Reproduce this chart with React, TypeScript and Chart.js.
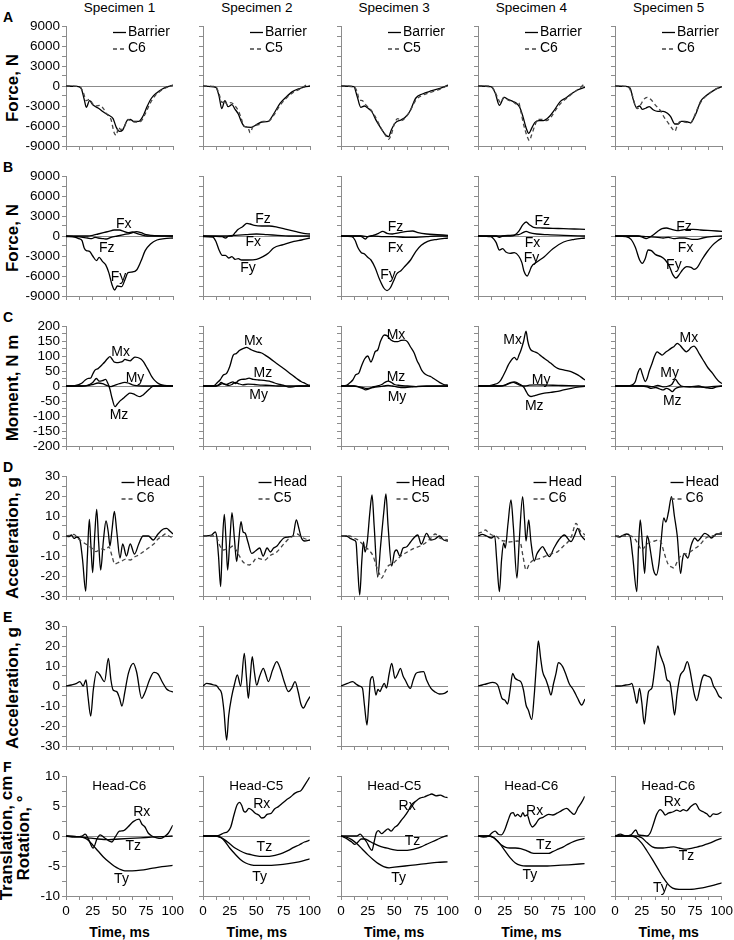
import React, { useEffect, useRef } from 'react';
import { Chart, registerables } from 'chart.js';

Chart.register(...registerables);

type Pt = [number, number];
type Note = [string, number, number];

// ---------- labels ----------
const SPECIMENS = ['Specimen 1', 'Specimen 2', 'Specimen 3', 'Specimen 4', 'Specimen 5'];
const ROW_LETTERS = ['A', 'B', 'C', 'D', 'E', 'F'];
const Y_TITLES: string[][] = [['Force, N'], ['Force, N'], ['Moment, N m'], ['Acceleration, g'], ['Acceleration, g'], ['Translation, cm', 'Rotation, °']];
const X_TITLE = 'Time, ms';
const TIME_LABELS = [0, 25, 50, 75, 100];
const FORCE_LABELS = [-9000, -6000, -3000, 0, 3000, 6000, 9000];
const MOMENT_LABELS = [-200, -150, -100, -50, 0, 50, 100, 150, 200];
const ACC_LABELS = [-30, -20, -10, 0, 10, 20, 30];
const DISP_LABELS = [-10, -5, 0, 5, 10];
const A_REF_NAME = 'Barrier';
const A_VERT_NAMES = ['C6', 'C5', 'C5', 'C6', 'C6'];
const D_REF_NAME = 'Head';
const D_VERT_NAMES = ['C6', 'C5', 'C5', 'C6', 'C6'];
const F_TITLES = ['Head-C6', 'Head-C5', 'Head-C5', 'Head-C6', 'Head-C6'];

// ---------- Row A: barrier vs vertebra force ----------
const A1_barrier: Pt[] = [[0,0],[10,-50],[14,-300],[17,-2000],[19,-3200],[22,-2200],[25,-2800],[30,-3300],[35,-3900],[40,-4400],[44,-4900],[47,-6200],[50,-6800],[53,-6600],[57,-5200],[60,-5000],[63,-5300],[68,-5300],[72,-4500],[76,-3000],[80,-1800],[85,-1000],[90,-450],[95,-100],[100,150]];
const A1_c6: Pt[] = [[0,0],[12,-100],[16,-900],[19,-2200],[22,-2000],[25,-2700],[28,-3000],[32,-2900],[35,-3400],[38,-4200],[42,-5000],[45,-7000],[47,-7400],[49,-6200],[51,-6500],[54,-6300],[58,-5000],[61,-5300],[66,-5400],[70,-5300],[74,-4200],[78,-2800],[83,-1500],[88,-800],[93,-300],[100,100]];
const A2_barrier: Pt[] = [[0,0],[12,-200],[15,-1500],[17.5,-3400],[20.5,-2200],[23.5,-3100],[27,-2800],[30,-3500],[33,-4200],[36,-5400],[39,-6100],[45,-6200],[50,-5800],[55,-5400],[61,-5300],[66,-4200],[72,-2600],[78,-1600],[84,-800],[90,-400],[96,-100],[100,-50]];
const A2_c5: Pt[] = [[0,0],[12,-100],[15,-1200],[18,-2500],[20,-2200],[23,-2900],[26,-2500],[30,-3000],[33,-3700],[36,-5000],[38,-6000],[42,-6200],[44,-7000],[47,-6000],[52,-5800],[56,-5300],[61,-5300],[66,-4400],[72,-2900],[78,-1800],[84,-1000],[90,-500],[95,0],[97,200],[100,0]];
const A3_barrier: Pt[] = [[0,0],[12,-100],[15,-1500],[18.5,-3200],[22,-3000],[25,-3300],[29,-3900],[33,-5200],[38,-6500],[42,-7400],[44.5,-7600],[47,-6600],[51,-5500],[56,-5100],[60,-4700],[64,-3900],[70,-1800],[76,-1200],[85,-700],[95,-200],[100,150]];
const A3_c5: Pt[] = [[0,0],[12,-100],[15,-800],[17,-2000],[20,-2200],[23,-2800],[28,-3600],[33,-4900],[38,-6500],[42,-7500],[44.5,-8000],[47,-7300],[50,-5600],[53,-4900],[56,-5200],[60,-4800],[64,-3900],[70,-2100],[76,-1400],[85,-900],[95,-300],[100,100]];
const A4_barrier: Pt[] = [[0,0],[12,-100],[16,-1000],[20,-2900],[24.5,-1700],[28,-2000],[31,-2200],[36,-2600],[39,-3200],[42,-4600],[45,-6300],[47.5,-7100],[50,-6400],[53,-5500],[57,-5200],[61,-5200],[66,-4700],[71,-3700],[77,-2300],[82,-1800],[87,-1200],[93,-600],[100,-200]];
const A4_c6: Pt[] = [[0,0],[12,-50],[15,-600],[18,-1600],[21,-2500],[24,-1700],[28,-2100],[33,-2400],[36,-2700],[38,-2500],[40,-3800],[43,-6000],[46,-7600],[48,-8200],[50,-7400],[53,-6000],[56,-5000],[60,-5000],[64,-5200],[68,-4700],[73,-3500],[78,-2500],[84,-1700],[90,-900],[96,-200],[99,200],[100,50]];
const A5_barrier: Pt[] = [[0,0],[10,-50],[14,-300],[17,-2000],[20,-3200],[23,-3000],[25.5,-3500],[29,-3300],[32,-3100],[36,-3600],[40,-3800],[45,-3800],[49,-4100],[52,-4600],[56,-5700],[59,-5700],[62,-5300],[65,-5300],[68,-5400],[71,-5500],[73,-5000],[76,-4000],[80,-2300],[84,-1600],[90,-900],[95,-400],[100,-100]];
const A5_c6: Pt[] = [[0,0],[12,-100],[16,-1300],[19,-3000],[21,-3400],[24,-2800],[27,-2000],[30,-1700],[34,-2100],[38,-2900],[42,-3600],[46,-4700],[50,-5600],[54,-6500],[56,-6800],[58,-6000],[61,-5300],[65,-5400],[68,-5500],[70,-5600],[73,-5000],[76,-3800],[80,-2500],[85,-1500],[90,-900],[95,-400],[100,-100]];

// ---------- Row B: force components ----------
const B1_fx: Pt[] = [[0,0],[20,0],[25,100],[30,300],[35,500],[40,700],[45,900],[50,900],[54,700],[58,500],[62,600],[66,400],[70,200],[76,0],[100,0]];
const B1_fy: Pt[] = [[0,0],[8,-150],[12,-400],[15,-700],[17,-1800],[19,-2200],[22,-2300],[25,-3000],[28.5,-3700],[31,-3200],[34,-3800],[37,-4300],[40,-5500],[43,-7300],[45.5,-8100],[48,-7500],[52,-7600],[55,-6600],[58,-5500],[62,-5400],[66,-5100],[70,-3800],[74,-2200],[79,-1200],[85,-600],[92,-400],[100,-300]];
const B1_fz: Pt[] = [[0,-100],[10,-100],[20,-300],[24,-400],[27,-200],[30,-300],[35,-400],[38,-450],[42,-200],[48,0],[54,200],[60,400],[66,650],[70,500],[75,200],[80,100],[100,0]];
const B2_fx: Pt[] = [[0,0],[18,-100],[21,-300],[24,0],[30,100],[40,200],[50,300],[60,200],[70,100],[80,0],[100,0]];
const B2_fy: Pt[] = [[0,-100],[9,-150],[12,-800],[15,-2100],[18,-2900],[21,-2900],[24,-3300],[27,-3100],[30,-3500],[33,-3400],[36,-3600],[42,-3600],[50,-3500],[56,-3100],[61,-2600],[66,-1800],[75,-1300],[85,-800],[92,-600],[100,-300]];
const B2_fz: Pt[] = [[0,0],[27,0],[30,500],[33,1000],[37,1400],[41,1900],[44,1800],[48,1600],[55,1500],[62,1500],[70,1300],[78,1000],[86,700],[94,400],[100,300]];
const B3_fx: Pt[] = [[0,0],[18,0],[21,-300],[23,-450],[25,-100],[30,0],[40,-100],[50,-100],[60,-200],[70,-200],[80,-100],[90,0],[100,0]];
const B3_fy: Pt[] = [[0,0],[10,-100],[13,-600],[16,-1800],[19,-2500],[22,-2700],[25,-3200],[28,-3600],[32,-4800],[36,-6500],[40,-7800],[43,-8200],[46,-7800],[49,-6800],[52,-5700],[56,-5200],[60,-4500],[65,-3600],[70,-2300],[75,-1400],[81,-800],[90,-500],[100,-300]];
const B3_fz: Pt[] = [[0,0],[20,0],[25,-100],[30,100],[35,400],[39,700],[43,400],[48,300],[55,500],[62,700],[67,750],[72,500],[80,300],[90,200],[100,100]];
const B4_fx: Pt[] = [[0,0],[17,0],[20,-200],[23,0],[30,100],[38,200],[42,500],[45,700],[48,500],[55,300],[65,200],[80,100],[100,0]];
const B4_fy: Pt[] = [[0,0],[12,-100],[15,-500],[17,-1000],[20,-2100],[23,-1900],[26,-2400],[30,-2600],[34,-2500],[38,-3000],[41,-4000],[43,-5300],[46,-6000],[48,-5400],[50,-4600],[55,-3900],[62,-3100],[70,-1900],[80,-900],[90,-500],[100,-300]];
const B4_fz: Pt[] = [[0,0],[20,0],[30,0],[34,100],[38,700],[42,1700],[45,2100],[48,1700],[52,1300],[60,1200],[70,1150],[80,1100],[90,1050],[100,1000]];
const B5_fx: Pt[] = [[0,0],[20,0],[30,-100],[40,-200],[45,-300],[50,-200],[55,-400],[60,-300],[65,-300],[72,-500],[77,-500],[82,-300],[90,-100],[100,0]];
const B5_fy: Pt[] = [[0,0],[10,-100],[15,-500],[19,-1700],[23,-3600],[25.5,-4100],[28,-3500],[31,-2100],[34,-2200],[38,-2800],[43,-3100],[47,-3600],[51,-4600],[54,-5800],[57,-6300],[60,-5800],[63,-5100],[67,-4600],[71,-4700],[74,-5000],[77,-4700],[81,-3600],[86,-2400],[91,-1400],[96,-700],[100,-300]];
const B5_fz: Pt[] = [[0,0],[22,0],[26,-200],[29,-400],[32,-200],[36,200],[40,700],[44,1100],[48,1200],[53,1000],[58,800],[63,900],[68,1000],[73,1000],[80,900],[90,800],[100,700]];

// ---------- Row C: moments ----------
const C1_mx: Pt[] = [[0,0],[5,0],[8,1],[11,4],[14.6,9],[18,20],[20.9,25.5],[23,26],[25,40],[27.1,53],[30,58],[31.8,64],[34,72],[36.4,81],[38.5,90],[41.1,98],[43,90],[45,80],[47.4,78],[50,79],[53,82],[55.1,89],[57.5,86],[60,84],[62,90],[64.5,96],[67,95],[70,90],[72.3,81],[75,65],[77,53],[80,32],[82,22],[85,12],[88,5.5],[92,2],[100,0]];
const C1_my: Pt[] = [[0,0],[15,0],[20,1],[25,5],[30,10],[34,8],[38,2],[42,-2],[46,3],[50,8],[55,12],[58,10],[62,4],[66,1],[72,0],[100,0]];
const C1_mz: Pt[] = [[0,0],[15,0],[20,2],[25,12],[28.5,25],[31,16],[34,18],[37,22],[39,10],[41,-10],[43,-40],[45.8,-69],[48,-60],[51,-48],[53.6,-41],[57,-30],[59.8,-24],[63,-26],[66,-32],[69.2,-35.5],[72,-30],[75,-20],[78,-10],[81.6,0],[100,0]];
const C2_mx: Pt[] = [[0,0],[8,0],[11,2],[13,10],[15.9,20],[19,37],[22,42],[25,65],[28.3,103],[31,108],[34,118],[37.7,125],[40.8,129],[43,125],[45.5,120],[50.2,114],[54.8,110],[58,103],[62.6,92],[68.8,75],[75,59],[81.3,42],[87.5,25],[92,14],[95.3,9],[98,4],[100,2]];
const C2_my: Pt[] = [[0,0],[12,0],[15,3],[18,8],[21,5],[24,2],[27,5],[30,12],[33,8],[37,4],[42,6],[48,5],[55,3],[62,2],[70,0],[100,0]];
const C2_mz: Pt[] = [[0,0],[12,0],[15,5],[17,12],[19,8],[22,5],[25,10],[28,14],[30,8],[33,18],[36,22],[40,23],[43,26],[47,22],[52,20],[57,19],[62,16],[67,10],[72,5],[77,0],[80,-4],[84,-3],[90,0],[100,0]];
const C3_mx: Pt[] = [[0,0],[5,2],[8,10],[11,20],[14,38],[16.5,42],[19,65],[22,90],[25,100],[28,80],[30,95],[32,115],[34.3,120],[37,150],[40.5,170],[43,168],[46.7,153],[50,148],[53,148],[56,152],[59.2,153],[62,148],[65,130],[68.5,109],[71,85],[73.2,70],[75.5,52],[77.9,42],[81,35],[84.1,31],[86.5,25],[88.8,20],[92,12],[96,5],[100,3]];
const C3_my: Pt[] = [[0,0],[12,0],[16,-2],[20,-5],[24,-8],[28,-6],[32,-4],[36,-2],[40,0],[44,2],[48,0],[52,-3],[56,-5],[60,-5],[66,-3],[72,-1],[80,0],[100,0]];
const C3_mz: Pt[] = [[0,0],[12,0],[16,-3],[20,-8],[23,-13],[26,-10],[30,-3],[34,0],[38,5],[41,12],[44,16],[47,12],[50,5],[55,2],[62,0],[70,-2],[80,-1],[100,0]];
const C4_mx: Pt[] = [[0,0],[8,0],[12,2],[15,5],[18.4,9],[21,18],[23.1,31],[26.2,53],[28,68],[30.2,81],[32,90],[34,95.5],[36.4,87],[38.5,105],[40.2,120],[42.7,150],[44.9,183],[46.5,150],[48,130],[49.5,120],[52,115],[55.8,109],[59,100],[62,92],[65,84],[68.2,75.5],[71,67],[74.5,59],[80.7,53],[86.9,48],[90,43],[93.2,37],[97,28],[100,20]];
const C4_my: Pt[] = [[0,0],[20,0],[25,2],[29,8],[33,12],[36,8],[40,2],[44,0],[48,3],[55,4],[65,3],[75,2],[85,1],[100,0]];
const C4_mz: Pt[] = [[0,0],[20,0],[25,3],[28,8],[31,12],[34,14],[37,10],[40,4],[43,-5],[45,-18],[47,-30],[49.5,-35],[53,-32],[57,-28],[62,-24],[68,-21],[74.5,-18],[80,-13],[86.9,-8],[93,-4],[100,-1]];
const C5_mx: Pt[] = [[0,0],[10,0],[14,1],[17,6],[19,15],[21,40],[23.6,59],[25.5,40],[28.3,15],[30,25],[32,50],[34.6,75],[37,100],[39.3,114],[42,108],[44,103],[47,112],[50.3,120],[53,127],[55,131],[58.2,142],[61,135],[63.5,124],[66.7,114],[69,120],[71,128],[73.9,133],[76.5,122],[79,106],[83.3,81],[87,60],[91.2,42],[94,28],[97.5,14],[100,8]];
const C5_my: Pt[] = [[0,0],[30,0],[35,-2],[40,2],[45,-3],[50,0],[53,5],[56.5,22],[59,10],[62,0],[70,-3],[78,0],[85,-5],[90,-2],[100,0]];
const C5_mz: Pt[] = [[0,0],[25,0],[30,-3],[34,-8],[38,-5],[42,-10],[45,-13],[48,-8],[51,-12],[53.5,-19],[56,-10],[60,-4],[65,-2],[72,-3],[80,-4],[86,-6],[90,-8],[95,-3],[100,0]];

// ---------- Row D: head and vertebra acceleration ----------
const D1_head: Pt[] = [[0,0],[3,-0.3],[5,0.5],[7.5,-1.2],[10,-0.5],[13,-2],[15.5,-12],[18.4,-27.5],[20,-10],[21.8,8.3],[23.3,-5],[24.9,-18.3],[26.8,0],[28.7,13.3],[30.5,-3],[32.4,-17],[35,-2],[37.4,7.5],[39.5,2],[41.1,-5],[43,3],[45.2,12.3],[47.5,2],[50.5,-11],[53,-4],[56.5,-10],[60,-4],[64,-9],[68,-4],[72,0],[77,0],[81.5,-2],[86,1],[91,3.5],[94,3.8],[97,2.5],[100,1]];
const D1_c6: Pt[] = [[0,0],[5,0.5],[7.5,0.8],[10,-0.5],[13,-2],[17,-3.5],[20,-4.5],[24,-6],[28,-7.8],[31,-7],[34,-6.5],[37,-7],[40,-5.5],[43,-10],[45.5,-14],[48,-13.5],[52,-12.5],[56,-11.5],[60,-12],[64,-10.5],[68,-9.5],[72,-8],[77,-6],[82,-4],[86,-1.5],[90,0],[93,1],[96,0],[100,-1]];
const D2_head: Pt[] = [[0,0],[8,0.5],[11.5,2],[13,-1],[14.5,-10],[16.5,-25.3],[18,-5],[19.9,10.8],[21.5,-2],[23,-17],[25,-3],[27.1,11.7],[29.3,-1],[31.5,-12.8],[33.5,-2],[35.5,7.2],[37.5,2],[39.3,1.5],[42,-3],[45.5,-8.7],[49,-7.5],[53,-6],[56.2,-10],[59.9,-6],[63,-8],[66,-6],[69.2,-5],[72,-3],[75.5,-1],[80,-0.5],[84,0],[87.2,8],[89.5,4],[92,-1],[95,-2.5],[100,-2]];
const D2_c5: Pt[] = [[0,0],[10,0],[13,-1],[15.5,-4.5],[19,-7],[22,-6.5],[25,-6],[28,-5],[31,-7],[34,-10],[37.5,-13],[40,-14],[43.5,-14.5],[47,-13],[50,-11],[54,-11.5],[58,-12],[62,-10],[69,-8],[75.5,-4],[81,-1],[85,0],[88,1],[92,-0.5],[96,-1.5],[100,-2]];
const D3_head: Pt[] = [[0,0],[5,0],[8,-1],[12,-2],[14,-3],[15.5,-15],[17.5,-29.5],[19.5,-12],[21,-3],[22.5,-8],[24.5,-3],[27,12],[29,20.5],[31,5],[34.3,-20.5],[37,-5],[40,12],[42,21],[44,5],[47.4,-15],[50,-8],[52,-7],[55,-10],[58,-6],[61,-5.5],[65,-3],[68,-1],[71.7,0.5],[75,-4],[80,1.3],[84,-2],[88,-1.5],[92,0],[96,-2],[100,-2.5]];
const D3_c5: Pt[] = [[0,0],[8,0],[12,-1],[16,-2],[19,-3.5],[22,-5],[26,-7],[30,-10],[33,-15],[36,-19],[38,-21],[41,-18],[44,-15],[48,-14],[52,-12],[56,-10],[62,-8],[69,-6],[74,-5],[80,-3],[85,-0.5],[88,1],[92,-1],[96,-1.5],[100,-2]];
const D4_head: Pt[] = [[0,0],[4,0.8],[8,0],[12.5,-1],[15.6,0],[17.5,-12],[20,-27.8],[22,-12],[24,-3.5],[25.5,-6],[28,6],[30.8,18],[33,5],[36.4,-21],[38.5,-3],[41.7,19.7],[43.5,8],[44.9,-2.5],[47.4,8],[49.5,-3],[52.6,-12.5],[55,-9],[57.3,-7],[60.4,-5.3],[63,-7.5],[66.7,-10.3],[71,-6],[75.5,-2],[80.7,0.5],[86.9,-2.8],[90,0],[93.2,3.8],[96,0.5],[100,-2]];
const D4_c6: Pt[] = [[0,1.3],[4,2],[7,3],[10,1.5],[13,0.5],[17,0],[21,-2],[25,-2.5],[29,-3],[33,-2.8],[37,-2.5],[40,-4],[42,-10],[45,-17],[48,-14],[52,-12],[56,-11.5],[62,-10.3],[68,-9],[74.5,-7.8],[80,-5],[84,-3],[87.5,0],[91.6,6.3],[95,3],[100,0.5]];
const D5_head: Pt[] = [[0,0],[4,-0.5],[8,0.5],[11,1],[14,0],[16.5,-10],[20.4,-27.8],[22,-5],[23.6,8],[25.5,-3],[27.7,-18.7],[29.9,0],[31.5,-2],[33,-7],[36,-17],[38.7,-19.5],[41,-14],[43,-3],[45.6,9],[47.5,7],[50,12],[52.8,19.7],[55.5,10],[58.2,0],[61.3,-18.7],[63,-12],[64.5,-8.7],[66.5,-10],[68.2,-11],[71,-5],[74.5,-1],[77.5,-2.5],[80,-1],[83.9,1.3],[87,0.5],[90,-1],[95,1],[100,1]];
const D5_c6: Pt[] = [[0,0],[10,0],[14,0],[18,-1],[20.5,-3],[23,-5.5],[25,-7],[27,-6],[30,-4],[33,-3],[37,-2.5],[40,-2],[43,-3],[45.6,-7.8],[50,-14.5],[53,-15.5],[55,-16],[58,-13],[62,-9.5],[66,-9],[70,-8],[74,-6.5],[79,-4.5],[85,-1],[90,0],[95,0.5],[100,2]];

// ---------- Row E: relative acceleration ----------
const E1_rel: Pt[] = [[0,0],[5,0.5],[10,1.3],[13,2.2],[16,0],[18.7,3],[20.5,-5],[23.1,-15],[25.5,-2],[28.7,7.2],[31.8,5.5],[36,2.2],[39.6,13.8],[42,3],[44,-2],[47.4,-2.8],[50,-6],[52.3,-10],[55,-3],[58.3,6.3],[62.9,11.3],[66,7],[70.7,-6.2],[74,-3],[78,3],[82.2,6.8],[86,6],[90,2],[94,-1.5],[97,-2.5],[100,-3]];
const E2_rel: Pt[] = [[0,0],[3.4,1.3],[7,1],[10,0.5],[13,0],[15,-1.5],[17.4,-3.7],[19.5,-12],[22.1,-27],[24,-15],[26.8,-5.3],[29.5,1],[32.1,5.5],[35.2,0],[38.6,16.3],[40.5,5],[42.4,-6.2],[44,3],[46,14.7],[48,7],[50.2,0.5],[53,5],[56.4,8.8],[58.5,6],[61.1,2.2],[65,8],[68.9,12.2],[72,9],[76,2],[79.8,-2.8],[83,-1],[86,2.2],[89,-3],[91.5,-9],[93.8,-11],[97,-8],[100,-5.3]];
const E3_rel: Pt[] = [[0,0],[6,1.3],[11,2.2],[14,1],[17,0],[20,-1],[22,-10],[24.3,-19.5],[26,-8],[27.5,3],[29.6,4.7],[32.7,-4.5],[34.5,-1.7],[36.5,-2.8],[38,-1],[40.5,1.3],[42.5,-1],[45,6],[47.4,11.3],[50.5,3.8],[53,6],[55.5,8.8],[58,5],[60,3],[64.8,-1.2],[67.5,3],[70.1,6.3],[74,7],[77.2,7.2],[80,3],[84.1,-1.2],[88,-3],[91.9,-4],[96.6,-3.7],[100,-2.5]];
const E4_rel: Pt[] = [[0,0],[4,0.5],[7.5,1],[13.7,1.8],[18.4,0.5],[20.5,-3],[22.4,-6.2],[25,-7],[27.7,-9],[30,-2],[32.4,6.3],[34.5,4],[37,3],[40.2,2],[42.5,-2],[44.9,-9.5],[47,-12],[50.2,-16.7],[52.5,-5],[54.5,10],[56.4,22.5],[58.5,14],[60.4,7.2],[63.6,3],[65.8,-0.5],[68.2,-4.5],[70.5,1],[72.9,6.3],[75.1,11.7],[79.1,9.7],[82,6],[85.4,1],[88,-1],[90,-2.8],[93,-6],[96.9,-9.5],[100,-6.5]];
const E5_rel: Pt[] = [[0,0],[5,0],[10,0.5],[14,0.8],[15.7,1.3],[18,-3],[20.4,-8.7],[22.9,-1.2],[25,-8],[27.4,-19],[29.5,-10],[31.4,-2.8],[34.5,-1],[37,8],[40,20],[42,16],[44,13],[46,10],[48.7,3],[51.2,2],[53.5,-6],[55.7,-14.5],[58,-4],[60.7,4.7],[64.5,8],[67.6,12.2],[70,8],[72,2],[74.5,-5],[76.4,-7.3],[79,-2],[81,3],[83.3,5.5],[86,5],[89.6,3.8],[92,0],[94.3,-2],[97,-5],[100,-6.2]];

// ---------- Row F: head-vertebra translation / rotation ----------
const F1_rx: Pt[] = [[0,0],[8,-0.2],[15,0],[18,0.3],[21,-0.5],[25.5,-2],[29,-0.5],[32,0.2],[36,-0.3],[40,-0.8],[43,-1],[46,-0.2],[50,0.8],[54,0.9],[58,1.5],[63,2.4],[68.5,2.8],[71,2],[74,1.5],[77,0.5],[80.5,0],[85,-0.3],[89,-0.4],[93,0],[96,0.5],[100,1.8]];
const F1_tz: Pt[] = [[0,0],[10,-0.1],[20,-0.3],[30,-0.5],[40,-0.6],[50,-0.5],[60,-0.4],[70,-0.3],[80,-0.2],[90,-0.1],[100,0]];
const F1_ty: Pt[] = [[0,0],[10,-0.1],[15,-0.2],[20,-0.6],[25,-1.5],[30,-2.5],[35,-3.5],[40,-4.3],[45,-5],[50,-5.5],[55,-5.8],[62,-5.8],[70,-5.7],[80,-5.4],[90,-5.1],[100,-4.9]];
const F2_rx: Pt[] = [[0,0],[10,0],[15,0.1],[19.4,0.5],[23,0.7],[26,1.5],[29,3.5],[32,5.2],[34.3,5.6],[36.5,5],[38,4.2],[40,4],[43,4.6],[46,4.3],[49,3.8],[52.2,3.5],[55,3],[57.5,3.1],[60,3.6],[64,3.8],[67,4.5],[70.6,4.9],[74,5.4],[78,6],[82,6.5],[85.9,7.1],[88,7.3],[92,7.6],[96,8.7],[100,9.8]];
const F2_tz: Pt[] = [[0,0],[12,0],[16,-0.2],[20,-0.6],[25,-1.3],[30,-2],[35,-2.5],[40,-2.9],[45,-3.1],[50,-3.3],[55,-3.4],[60,-3.4],[65,-3.3],[70,-3.1],[75,-2.8],[80,-2.4],[85,-1.9],[90,-1.5],[95,-1],[100,-0.7]];
const F2_ty: Pt[] = [[0,0],[12,0],[17,-0.3],[20,-0.8],[25,-2],[30,-3],[35,-3.9],[40,-4.5],[45,-4.8],[50,-4.9],[60,-4.9],[70,-4.8],[80,-4.6],[90,-4.3],[100,-3.8]];
const F3_rx: Pt[] = [[0,0],[10,0],[15,0],[18,0.3],[21,-0.3],[24,-1],[27,-2],[29,-2.4],[31,-1],[33,0.5],[35,0.9],[38,0.4],[41,0.8],[44,1.2],[47,0.8],[50,1.4],[53,1.8],[56,2.5],[60,3.4],[63,4.2],[66,5.2],[70,5.8],[74,6.3],[78,6.5],[82,6.8],[85,7],[89,6.7],[93,6.8],[97,6.5],[100,6.4]];
const F3_tz: Pt[] = [[0,0],[5,-0.4],[10,-1],[13,-1.4],[16,-1],[19,-0.5],[22,-0.5],[26,-0.8],[30,-1.2],[35,-1.6],[40,-1.9],[45,-2.1],[50,-2.3],[55,-2.4],[60,-2.4],[65,-2.3],[70,-2.1],[75,-1.8],[80,-1.4],[85,-1],[90,-0.6],[95,-0.2],[100,0.1]];
const F3_ty: Pt[] = [[0,0],[5,-0.2],[10,-0.6],[15,-1.3],[20,-2.2],[25,-3.1],[30,-3.9],[35,-4.6],[40,-5.1],[45,-5.3],[50,-5.2],[60,-5],[70,-4.8],[80,-4.6],[90,-4.4],[100,-4.3]];
const F4_rx: Pt[] = [[0,0],[5,-0.2],[10,0],[13,0.5],[16,0.8],[19,0.3],[22,0.2],[25,1],[28,2.5],[31,3.8],[33,3.9],[35,3.3],[37,3.6],[40,3.2],[42,3.9],[44,3.3],[46,3.5],[49,2],[51,1.5],[54,2],[57,2.8],[61,3.1],[66,3.6],[70,3.5],[74,3.8],[78,4.2],[83,4.6],[87,4],[90,3.6],[94,4.8],[97,5.6],[100,6.6]];
const F4_tz: Pt[] = [[0,0],[10,0],[14,-0.2],[18,-0.8],[22,-1.5],[26,-1.9],[30,-2],[35,-2],[40,-2.1],[45,-2.4],[50,-2.8],[55,-2.9],[60,-2.9],[66,-2.9],[70,-2.6],[75,-2.2],[80,-1.8],[85,-1.3],[90,-0.9],[95,-0.6],[100,-0.4]];
const F4_ty: Pt[] = [[0,0],[10,0],[15,-0.3],[20,-1.2],[25,-2.4],[30,-3.6],[35,-4.5],[40,-4.9],[45,-5],[55,-5],[65,-5],[75,-4.9],[85,-4.8],[100,-4.6]];
const F5_rx: Pt[] = [[0,0],[5,0.3],[10,0],[15,0.2],[19.5,1],[22,0.2],[26,0.1],[30,0],[33,0.5],[36,2],[39,3.6],[42.5,4.4],[45,4],[47,3.5],[50,3.8],[54,4],[58,4.3],[61,4.1],[64,4.4],[67,4.2],[71,4.9],[75.5,5.4],[79,4.4],[83,4],[86,3.7],[89,3.2],[92,3.7],[95,3.6],[100,4]];
const F5_tz: Pt[] = [[0,0],[20,0],[25,-0.3],[30,-1.1],[35,-1.8],[40,-2],[45,-2],[50,-1.9],[55,-1.8],[60,-2],[65,-2.2],[70,-2.1],[75,-1.9],[80,-1.7],[85,-1.4],[90,-1.1],[95,-0.7],[100,-0.4]];
const F5_ty: Pt[] = [[0,0],[15,0],[20,-0.3],[25,-1.2],[30,-2.5],[35,-3.9],[40,-5.4],[45,-6.9],[50,-8.1],[54,-8.7],[60,-8.9],[70,-8.9],[80,-8.7],[90,-8.3],[100,-7.8]];

// ---------- in-plot curve labels (time, value) ----------
const B_NOTES: Note[][] = [
  [['Fx', 54, 1800], ['Fz', 38, -1800], ['Fy', 49, -6150]],
  [['Fz', 56, 2500], ['Fx', 47, -900], ['Fy', 42, -4800]],
  [['Fz', 51, 1400], ['Fx', 51, -1750], ['Fy', 44, -5850]],
  [['Fz', 60, 2250], ['Fx', 51, -1000], ['Fy', 50, -3350]],
  [['Fz', 64.5, 1400], ['Fx', 66, -1850], ['Fy', 55, -4350]],
];
const C_NOTES: Note[][] = [
  [['Mx', 51, 112], ['My', 64.5, 25], ['Mz', 49.5, -97]],
  [['Mx', 47, 148], ['Mz', 56, 42], ['My', 52, -30]],
  [['Mx', 51.4, 170], ['Mz', 51.4, 31], ['My', 52.3, -38]],
  [['Mx', 32.4, 153], ['My', 59, 20], ['Mz', 52.6, -67]],
  [['Mx', 69, 159], ['My', 51, 42], ['Mz', 53.5, -50]],
];
const F_NOTES: Note[][] = [
  [['Rx', 71, 4], ['Tz', 63, -1.7], ['Ty', 52, -7.2]],
  [['Rx', 55, 5.3], ['Tz', 57.5, -1.8], ['Ty', 53, -6.8]],
  [['Rx', 62, 4.9], ['Tz', 67, -0.9], ['Ty', 54, -7]],
  [['Rx', 53, 4.1], ['Tz', 61.7, -1.5], ['Ty', 48.6, -6.6]],
  [['Rx', 53.6, 5.7], ['Tz', 67, -3.4], ['Ty', 42.5, -8.7]],
];

const A_REF = [A1_barrier, A2_barrier, A3_barrier, A4_barrier, A5_barrier];
const A_VERT = [A1_c6, A2_c5, A3_c5, A4_c6, A5_c6];
const B_SERIES = [[B1_fx, B1_fy, B1_fz], [B2_fx, B2_fy, B2_fz], [B3_fx, B3_fy, B3_fz], [B4_fx, B4_fy, B4_fz], [B5_fx, B5_fy, B5_fz]];
const C_SERIES = [[C1_mx, C1_my, C1_mz], [C2_mx, C2_my, C2_mz], [C3_mx, C3_my, C3_mz], [C4_mx, C4_my, C4_mz], [C5_mx, C5_my, C5_mz]];
const D_HEAD = [D1_head, D2_head, D3_head, D4_head, D5_head];
const D_VERT = [D1_c6, D2_c5, D3_c5, D4_c6, D5_c6];
const E_REL = [E1_rel, E2_rel, E3_rel, E4_rel, E5_rel];
const F_SERIES = [[F1_rx, F1_tz, F1_ty], [F2_rx, F2_tz, F2_ty], [F3_rx, F3_tz, F3_ty], [F4_rx, F4_tz, F4_ty], [F5_rx, F5_tz, F5_ty]];

// ---------- layout / style ----------
const FONT = '"Liberation Sans", Arial, sans-serif';
const AXIS = '#8c8c8c';
const PLOT_W = 107;
const PLOT_H = 120;
const PAD_L = 66;
const PAD_T = 14;
const PAD_R = 14;
const PAD_B = 30;
const colLeft = (c: number) => 66 + c * 137.3;
const rowTop = (r: number) => 26 + r * 150;

const ROW_SCALES = [
  { min: -9000, max: 9000, step: 1500, labels: FORCE_LABELS },
  { min: -9000, max: 9000, step: 1500, labels: FORCE_LABELS },
  { min: -200, max: 200, step: 25, labels: MOMENT_LABELS },
  { min: -30, max: 30, step: 5, labels: ACC_LABELS },
  { min: -30, max: 30, step: 5, labels: ACC_LABELS },
  { min: -10, max: 10, step: 2.5, labels: DISP_LABELS },
];

interface SeriesDef { pts: Pt[]; dashed?: boolean }
interface PanelDef { row: number; col: number; series: SeriesDef[]; notes: Note[]; legend?: string[]; title?: string }

const PANELS: PanelDef[] = [];
for (let c = 0; c < 5; c++) {
  PANELS.push({ row: 0, col: c, series: [{ pts: A_VERT[c], dashed: true }, { pts: A_REF[c] }], notes: [], legend: [A_REF_NAME, A_VERT_NAMES[c]] });
  PANELS.push({ row: 1, col: c, series: B_SERIES[c].map((pts) => ({ pts })), notes: B_NOTES[c] });
  PANELS.push({ row: 2, col: c, series: C_SERIES[c].map((pts) => ({ pts })), notes: C_NOTES[c] });
  PANELS.push({ row: 3, col: c, series: [{ pts: D_VERT[c], dashed: true }, { pts: D_HEAD[c] }], notes: [], legend: [D_REF_NAME, D_VERT_NAMES[c]] });
  PANELS.push({ row: 4, col: c, series: [{ pts: E_REL[c] }], notes: [] });
  PANELS.push({ row: 5, col: c, series: F_SERIES[c].map((pts) => ({ pts })), notes: F_NOTES[c], title: F_TITLES[c] });
}

function makeDecor(p: PanelDef) {
  return {
    id: 'decor' + p.row + p.col,
    afterDatasetsDraw(chart: any) {
      const { ctx, chartArea: ca, scales } = chart;
      ctx.save();
      ctx.fillStyle = '#000';
      ctx.textBaseline = 'middle';
      ctx.textAlign = 'center';
      ctx.font = `14px ${FONT}`;
      p.notes.forEach(([t, x, y]) => {
        ctx.fillText(t, scales.x.getPixelForValue(x), scales.y.getPixelForValue(y));
      });
      if (p.title) {
        ctx.font = `13.5px ${FONT}`;
        ctx.fillText(p.title, (ca.left + ca.right) / 2, ca.top + 10);
      }
      if (p.legend) {
        ctx.font = `14px ${FONT}`;
        const w = Math.max(...p.legend.map((l) => ctx.measureText(l).width));
        const tx = ca.right - 3 - w;
        p.legend.forEach((label, i) => {
          const y = ca.top + 6 + i * 16.5;
          ctx.textAlign = 'left';
          ctx.fillStyle = '#000';
          ctx.fillText(label, tx, y);
          ctx.beginPath();
          ctx.strokeStyle = i ? '#444' : '#000';
          ctx.lineWidth = 1.3;
          ctx.setLineDash(i ? [4, 3] : []);
          ctx.moveTo(tx - 15, y + 0.5);
          ctx.lineTo(tx - 2, y + 0.5);
          ctx.stroke();
        });
      }
      ctx.restore();
    },
  };
}

function PanelChart({ p }: { p: PanelDef }) {
  const ref = useRef<HTMLCanvasElement>(null);
  const w = PAD_L + PLOT_W + PAD_R;
  const h = PAD_T + PLOT_H + PAD_B;
  useEffect(() => {
    if (!ref.current) return;
    const sc = ROW_SCALES[p.row];
    const showY = p.col === 0;
    const showX = p.row === 5;
    const chart = new Chart(ref.current, {
      type: 'line',
      data: {
        datasets: p.series.map((s) => ({
          data: s.pts.map(([x, y]) => ({ x, y })),
          borderColor: s.dashed ? '#444' : '#000',
          borderWidth: 1.3,
          borderDash: s.dashed ? [4, 3] : [],
          pointRadius: 0,
          fill: false,
          cubicInterpolationMode: 'monotone' as const,
        })),
      },
      options: {
        animation: false,
        responsive: false,
        devicePixelRatio: 1,
        events: [],
        layout: { padding: { top: PAD_T, right: PAD_R, left: 0, bottom: 0 }, autoPadding: false },
        plugins: { legend: { display: false }, tooltip: { enabled: false }, title: { display: false } },
        scales: {
          x: {
            type: 'linear',
            min: 0,
            max: 100,
            afterFit: (s: any) => { s.height = PAD_B; },
            border: { display: true, color: AXIS, width: 1 },
            grid: { display: true, drawOnChartArea: false, drawTicks: true, tickLength: 4, color: AXIS, lineWidth: 1 },
            ticks: {
              stepSize: 12.5,
              autoSkip: false,
              maxRotation: 0,
              minRotation: 0,
              padding: 3,
              color: '#000',
              font: { family: FONT, size: 13.5 },
              callback: (v: any) => (showX && TIME_LABELS.includes(Number(v)) ? String(v) : ''),
            },
          },
          y: {
            type: 'linear',
            min: sc.min,
            max: sc.max,
            afterFit: (s: any) => { s.width = PAD_L; },
            border: { display: true, color: AXIS, width: 1 },
            grid: {
              display: true,
              drawOnChartArea: true,
              drawTicks: true,
              tickLength: 4,
              lineWidth: 1,
              tickColor: AXIS,
              color: (cx: any) => (cx.tick && cx.tick.value === 0 ? AXIS : 'rgba(0,0,0,0)'),
            },
            ticks: {
              stepSize: sc.step,
              autoSkip: false,
              padding: 2,
              color: '#000',
              font: { family: FONT, size: 13.5 },
              callback: (v: any) => (showY && sc.labels.includes(Number(v)) ? String(v) : ''),
            },
          },
        },
      },
      plugins: [makeDecor(p)],
    } as any);
    return () => chart.destroy();
  }, [p]);
  return (
    <canvas
      ref={ref}
      width={w}
      height={h}
      style={{ position: 'absolute', left: colLeft(p.col) - PAD_L, top: rowTop(p.row) - PAD_T, width: w, height: h }}
    />
  );
}

export default function App() {
  return (
    <div style={{ position: 'absolute', left: 0, top: 0, width: 734, height: 940, background: '#fff', fontFamily: FONT, color: '#000', overflow: 'hidden' }}>
      {SPECIMENS.map((s, c) => (
        <div key={s} style={{ position: 'absolute', left: colLeft(c) - 20, width: PLOT_W + 40, top: 0, height: 16, lineHeight: '16px', textAlign: 'center', fontSize: 13.5 }}>{s}</div>
      ))}
      {ROW_LETTERS.map((l, r) => (
        <div key={l} style={{ position: 'absolute', left: 3, top: rowTop(r) - 17, height: 16, lineHeight: '16px', fontSize: 14, fontWeight: 'bold' }}>{l}</div>
      ))}
      {Y_TITLES.map((lines, r) => (
        <div
          key={'yt' + r}
          style={{
            position: 'absolute',
            left: lines.length > 1 ? 15 : 12,
            top: rowTop(r) + 62,
            transform: 'translate(-50%, -50%) rotate(-90deg)',
            whiteSpace: 'nowrap',
            fontWeight: 'bold',
            fontSize: 17,
            lineHeight: '17px',
            textAlign: 'center',
          }}
        >
          {lines.map((t, i) => (<div key={i}>{t}</div>))}
        </div>
      ))}
      {SPECIMENS.map((s, c) => (
        <div key={'xt' + c} style={{ position: 'absolute', left: colLeft(c) - 20, width: PLOT_W + 40, top: 924, height: 16, lineHeight: '16px', textAlign: 'center', fontSize: 14, fontWeight: 'bold' }}>{X_TITLE}</div>
      ))}
      {PANELS.map((p) => (
        <PanelChart key={p.row + '-' + p.col} p={p} />
      ))}
    </div>
  );
}
